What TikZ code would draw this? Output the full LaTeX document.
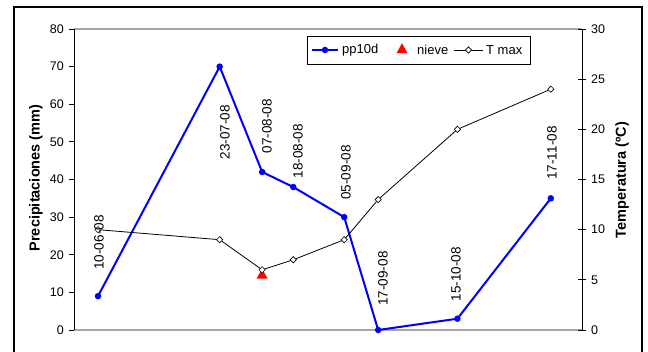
\documentclass[tikz,border=0pt]{standalone}
\usepackage{fontspec}
\setmainfont{Liberation Sans}
\usetikzlibrary{shapes.geometric}
\begin{document}
\begin{tikzpicture}[x=1pt,y=1pt,
    tick/.style={font=\fontsize{12.5}{14}\selectfont, inner sep=0pt},
    datelabel/.style={font=\fontsize{13.5}{15}\selectfont, rotate=90, inner sep=0pt},
    axtitle/.style={font=\fontsize{14.5}{16}\selectfont\bfseries, rotate=90, inner sep=0pt},
    legtext/.style={font=\fontsize{13}{15}\selectfont, inner sep=0pt, anchor=west},
    ppline/.style={blue, line width=2pt},
    ppdot/.style={circle, fill=blue, inner sep=0pt, minimum size=6.5pt},
    tline/.style={black, line width=0.8pt},
    tmark/.style={diamond, draw=black, fill=white, inner sep=0pt, minimum size=6.5pt, line width=0.6pt},
    snow/.style={isosceles triangle, shape border rotate=90, isosceles triangle stretches,
        fill=red, inner sep=0pt, minimum height=10pt, minimum width=11pt}]
    \useasboundingbox (0,0) rectangle (648,351);
    % frame
    \draw[line width=2pt] (14,-5) rectangle (642,344);
    % grid and axes
    \draw[gray!70, line width=1.2pt] (74,322) -- (582,322);
    \draw[gray!70, line width=1.2pt] (74,21) -- (582,21);
    \draw[line width=0.8pt] (74,21) -- (74,322);
    \draw[line width=0.8pt] (582,21) -- (582,322);
    \foreach \v in {0,10,...,80} {
        \draw[line width=0.8pt] (69,{21+3.7625*\v}) -- (74,{21+3.7625*\v});
        \node[tick, anchor=east] (pl\v) at (64,{21+3.7625*\v}) {\v};
    }
    \foreach \v in {0,5,...,30} {
        \draw[line width=0.8pt] (578,{21+10.033*\v}) -- (586,{21+10.033*\v});
        \node[tick, anchor=west] (tl\v) at (591,{21+10.033*\v}) {\v};
    }
    \node[axtitle] (pptitle) at (36,173) {Precipitaciones (mm)};
    \node[axtitle] (ttitle) at (622,171) {Temperatura (ºC)};
    % data: days since 10-06 / pp10d / T max
    \foreach \d/\p/\t [count=\i] in {0/9/10, 43/70/9, 58/42/6, 69/38/7,
        87/30/9, 99/0/13, 127/3/20, 160/35/24} {
        \coordinate (pp\i) at ({98+2.83*\d},{21+3.7625*\p});
        \coordinate (tm\i) at ({98+2.83*\d},{21+10.033*\t});
    }
    \draw[ppline] (pp1) -- (pp2) -- (pp3) -- (pp4) -- (pp5) -- (pp6) -- (pp7) -- (pp8);
    \foreach \i in {1,...,8} \node[ppdot] at (pp\i) {};
    \node[snow] (nieve) at (262.1,75.6) {};
    \draw[tline] (tm1) -- (tm2) -- (tm3) -- (tm4) -- (tm5) -- (tm6) -- (tm7) -- (tm8);
    \foreach \i in {1,...,8} \node[tmark] at (tm\i) {};
    % date labels
    \node[datelabel] (d1) at (99,108.5) {10-06-08};
    \node[datelabel] (d2) at (225,219) {23-07-08};
    \node[datelabel] (d3) at (267,225) {07-08-08};
    \node[datelabel] (d4) at (298,200) {18-08-08};
    \node[datelabel] (d5) at (346,178.5) {05-09-08};
    \node[datelabel] (d6) at (383,72.5) {17-09-08};
    \node[datelabel] (d7) at (456,77) {15-10-08};
    \node[datelabel] (d8) at (552,198) {17-11-08};
    % legend
    \draw[line width=0.8pt, fill=white] (307,287) rectangle (530,315);
    \coordinate (lg1a) at (312,301);
    \coordinate (lg1b) at (338,301);
    \draw[ppline] (lg1a) -- (lg1b);
    \node[ppdot] (lgdot) at (325,301) {};
    \node[legtext] (legpp) at (342,301) {pp10d};
    \node[snow] (legsnow) at (402,301) {};
    \node[legtext] (legnieve) at (417,301) {nieve};
    \coordinate (lg3a) at (454,301);
    \coordinate (lg3b) at (483,301);
    \draw[tline] (lg3a) -- (lg3b);
    \node[tmark] (legdia) at (468.5,301) {};
    \node[legtext] (legt) at (486,301) {T max};
\end{tikzpicture}
\end{document}
